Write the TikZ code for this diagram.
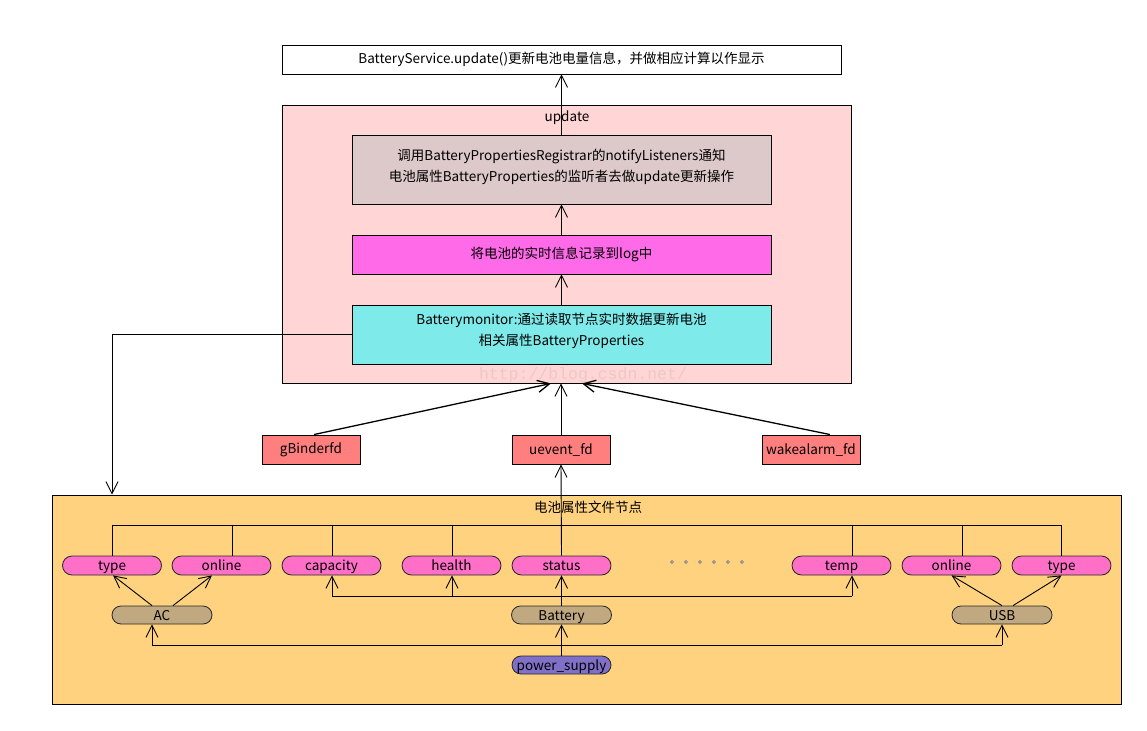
\documentclass[tikz,border=0pt]{standalone}
\usepackage{fontspec}
\setmainfont{Noto Sans CJK SC}
\newfontfamily\wmfont{Liberation Mono}
\usetikzlibrary{arrows.meta,shapes.misc}
\definecolor{updbg}{HTML}{FFD5D5}
\definecolor{boxone}{HTML}{DDC9C9}
\definecolor{boxtwo}{HTML}{FF6AE9}
\definecolor{boxthree}{HTML}{7FEAEA}
\definecolor{fdc}{HTML}{FF7F7F}
\definecolor{botbg}{HTML}{FFD27F}
\definecolor{pinkpill}{HTML}{FF6EC7}
\definecolor{tanpill}{HTML}{C0A880}
\definecolor{purppill}{HTML}{8070C8}
\definecolor{wmcol}{HTML}{EBC9C9}
\begin{document}
\begin{tikzpicture}[x=1pt,y=-1pt,
  every node/.style={inner sep=0pt, font=\fontsize{13.5}{21}\selectfont},
  box/.style={draw=black, line width=0.9pt, rectangle, align=center},
  pill/.style={draw=black!85, line width=0.8pt, rounded rectangle, fill=pinkpill, minimum width=99pt, minimum height=19pt, text height=10pt, text depth=0pt},
  conn/.style={line width=0.9pt},
  arr/.style={conn, -{Straight Barb[length=12pt,width=12pt]}}]
\useasboundingbox (0,0) rectangle (1147,730);
\fill[white] (0,0) rectangle (1147,730);
% containers
\node[box, fill=updbg, minimum width=569pt, minimum height=278pt] (upd) at (566.5,244) {};
\node (updlbl) at (567,118) {update};
\node[box, fill=botbg, minimum width=1069pt, minimum height=209pt] (bot) at (586.5,599.5) {};
\node (botlbl) at (588,507) {电池属性文件节点};
% top flow
\node[box, fill=white, minimum width=559pt, minimum height=29pt] (top) at (561.5,59.5) {BatteryService.update()更新电池电量信息，并做相应计算以作显示};
\node[box, fill=boxone, minimum width=419pt, minimum height=69pt] (b1) at (561.5,169.5) {};
\node[align=center] (b1t) at (561.5,166.5) {调用BatteryPropertiesRegistrar的notifyListeners通知\\电池属性BatteryProperties的监听者去做update更新操作};
\node[box, fill=boxtwo, minimum width=419pt, minimum height=39pt] (b2) at (561.5,254.5) {将电池的实时信息记录到log中};
\node[box, fill=boxthree, minimum width=419pt, minimum height=59pt] (b3) at (561.5,334.5) {};
\node[align=center] (b3t) at (561.5,331) {Batterymonitor:通过读取节点实时数据更新电池\\相关属性BatteryProperties};
\node[text=wmcol, font=\wmfont\fontsize{16.5}{18}\selectfont] (wm) at (583,375) {http://blog.csdn.net/};
% fd boxes
\node[box, fill=fdc, minimum width=98pt, minimum height=29pt] (gb) at (311,449.5) {gBinderfd};
\node[box, fill=fdc, minimum width=98pt, minimum height=29pt] (ue) at (561,449.5) {uevent\_fd};
\node[box, fill=fdc, minimum width=98pt, minimum height=29pt] (wa) at (811,449.5) {wakealarm\_fd};
% property pills
\node[pill] (type1) at (112,565.5) {type};
\node[pill] (online1) at (221.5,565.5) {online};
\node[pill] (capacity) at (331.5,565.5) {capacity};
\node[pill] (health) at (451.5,565.5) {health};
\node[pill] (status) at (561.5,565.5) {status};
\node[pill] (temp) at (841.5,565.5) {temp};
\node[pill] (online2) at (951.5,565.5) {online};
\node[pill] (type2) at (1061.5,565.5) {type};
\foreach \i in {0,...,5} \draw[draw=black!55, fill=black!30, line width=0.5pt] (672+14*\i,562) circle (1.6pt);
\node[pill, fill=tanpill, minimum width=100pt, minimum height=18pt] (ac) at (162,615) {AC};
\node[pill, fill=tanpill, minimum width=100pt, minimum height=18pt] (battery) at (561.5,615) {Battery};
\node[pill, fill=tanpill, minimum width=100pt, minimum height=18pt] (usb) at (1002,615) {USB};
\node[pill, fill=purppill, minimum height=18pt] (power) at (561.5,665) {power\_supply};
% connectors
\draw[arr] (b3.north) -- (b2.south);
\draw[arr] (b2.north) -- (b1.south);
\draw[arr] (b1.north) -- (top.south);
\draw[arr] (b3.west) -| (type1.north |- bot.north);
\draw[arr, line width=1.3pt] ([xshift=3pt]gb.north) -- ([xshift=-15.5pt]upd.south);
\draw[arr] (ue.north) -- (ue.north |- upd.south);
\draw[arr, line width=1.3pt] ([xshift=19pt]wa.north) -- ([xshift=15.5pt]upd.south);
\draw[arr] (status.north) -- (ue.south);
% bracket over properties
\coordinate (brk) at (112,525);
\draw[conn] (type1.north) -- (type1.north |- brk) -- (type2.north |- brk) -- (type2.north);
\foreach \n/\s in {online1/10.5, capacity/0.5, health/0.5, temp/10.5, online2/10.5}
  \draw[conn] ([xshift=\s pt]\n.north) -- ([xshift=\s pt]\n.north |- brk);
% battery branch
\coordinate (bb) at (0,596);
\draw[conn] ([xshift=0.5pt]capacity.south |- bb) -- ([xshift=10.5pt]temp.south |- bb);
\draw[arr] (battery.north) -- (status.south);
\draw[arr] ([xshift=0.5pt]capacity.south |- bb) -- ([xshift=0.5pt]capacity.south);
\draw[arr] ([xshift=0.5pt]health.south |- bb) -- ([xshift=0.5pt]health.south);
\draw[arr] ([xshift=10.5pt]temp.south |- bb) -- ([xshift=10.5pt]temp.south);
% AC / USB
\draw[arr] ([xshift=-10pt]ac.north) -- ([xshift=1pt]type1.south);
\draw[arr] ([xshift=11pt]ac.north) -- ([xshift=-9.5pt]online1.south);
\draw[arr] (usb.north) -- (online2.south);
\draw[arr] ([xshift=11pt]usb.north) -- (type2.south);
% power supply
\coordinate (pp) at (0,645);
\draw[conn] ([xshift=-10pt]ac.south |- pp) -- (usb.south |- pp);
\draw[arr] (power.north) -- (battery.south);
\draw[arr] ([xshift=-10pt]ac.south |- pp) -- ([xshift=-10pt]ac.south);
\draw[arr] (usb.south |- pp) -- (usb.south);
\end{tikzpicture}
\end{document}
